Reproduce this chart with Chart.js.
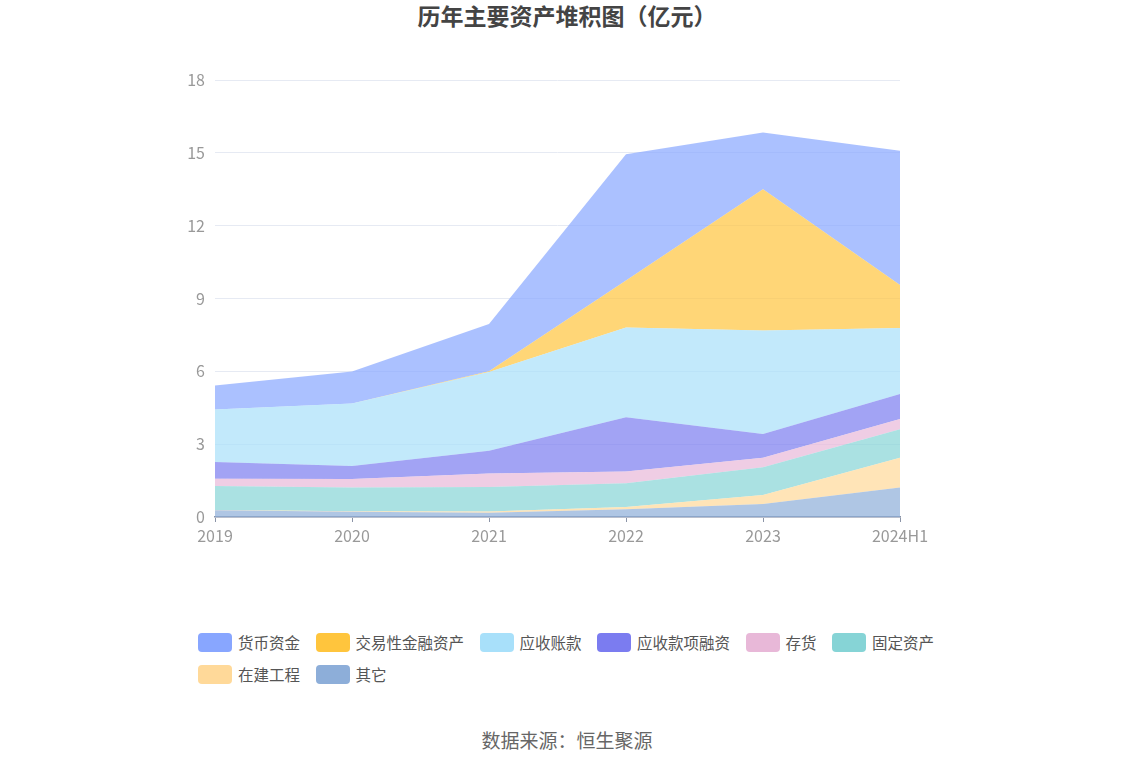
<!DOCTYPE html>
<html>
<head>
<meta charset="utf-8">
<script src="https://cdn.jsdelivr.net/npm/chart.js@4.4.1/dist/chart.umd.min.js"></script>
<style>
  body { margin: 0; background: #fff; font-family: "Noto Sans CJK SC", "Noto Sans", sans-serif; }
  #page { position: relative; width: 1134px; height: 766px; overflow: hidden; }
  #title { position: absolute; top: -2px; left: 0; width: 1134px; text-align: center; font-size: 23px; font-weight: bold; color: #444; }
  #wrap { position: absolute; left: 0; top: 0; width: 1134px; height: 560px; }
  #legend { position: absolute; left: 198px; top: 633px; width: 790px; display: flex; flex-wrap: wrap; row-gap: 13px; }
  .item { display: flex; align-items: center; margin-right: 15.5px; font-size: 15.5px; color: #555; line-height: 19px; }
  .box { width: 34px; height: 19px; border-radius: 4px; margin-right: 6px; }
  #source { position: absolute; top: 726px; left: 0; width: 1134px; text-align: center; font-size: 19px; color: #666; }
</style>
</head>
<body>
<div id="page">
  <div id="title">历年主要资产堆积图（亿元）</div>
  <div id="wrap"><canvas id="chart"></canvas></div>
  <div id="legend"></div>
  <div id="source">数据来源：恒生聚源</div>
</div>
<script>
// categories and series (亿元), stack order bottom -> top
const years = ['2019', '2020', '2021', '2022', '2023', '2024H1'];
const qita = [0.28, 0.22, 0.18, 0.32, 0.54, 1.21];
const zaijian = [0.01, 0.02, 0.05, 0.09, 0.37, 1.23];
const guding = [0.99, 0.97, 1.01, 0.98, 1.14, 1.17];
const cunhuo = [0.30, 0.36, 0.55, 0.48, 0.39, 0.43];
const rongzi = [0.69, 0.53, 0.94, 2.24, 0.98, 1.03];
const zhangkuan = [2.16, 2.58, 3.24, 3.70, 4.26, 2.72];
const jiaoyi = [0, 0, 0.03, 1.93, 5.82, 1.77];
const huobi = [0.99, 1.31, 1.95, 5.20, 2.34, 5.53];
const yTicks = [0, 3, 6, 9, 12, 15, 18];

// legend order (as shown)
const series = [
  { name: '货币资金', data: huobi, color: '136,166,255' },
  { name: '交易性金融资产', data: jiaoyi, color: '255,197,61' },
  { name: '应收账款', data: zhangkuan, color: '168,224,250' },
  { name: '应收款项融资', data: rongzi, color: '123,124,240' },
  { name: '存货', data: cunhuo, color: '232,184,216' },
  { name: '固定资产', data: guding, color: '134,212,214' },
  { name: '在建工程', data: zaijian, color: '255,217,153' },
  { name: '其它', data: qita, color: '141,174,217' },
];

// html legend
const legend = document.getElementById('legend');
series.forEach((s) => {
  const item = document.createElement('div');
  item.className = 'item';
  item.innerHTML = `<span class="box" style="background: rgb(${s.color})"></span>${s.name}`;
  legend.appendChild(item);
});

const datasets = series.slice().reverse().map((s, i) => ({
  label: s.name,
  data: s.data,
  backgroundColor: `rgba(${s.color},0.7)`,
  borderWidth: 0,
  pointRadius: 0,
  pointHoverRadius: 0,
  tension: 0,
  fill: i === 0 ? 'origin' : '-1',
}));

const axisFont = { family: '"Noto Sans CJK SC", sans-serif', size: 16 };

new Chart(document.getElementById('chart'), {
  type: 'line',
  data: { labels: years, datasets: datasets },
  options: {
    responsive: true,
    maintainAspectRatio: false,
    animation: false,
    layout: { padding: { top: 80, right: 234, bottom: 0, left: 0 } },
    plugins: {
      legend: { display: false },
      tooltip: { enabled: false },
    },
    scales: {
      x: {
        offset: false,
        grid: { drawOnChartArea: false, tickLength: 5, color: '#8b94a7' },
        border: { color: '#8b94a7', width: 1.5 },
        ticks: { color: '#999', font: axisFont, padding: 4, maxRotation: 0, autoSkip: false },
        afterFit: (scale) => { scale.height = 43; },
      },
      y: {
        stacked: true,
        min: 0,
        max: 18,
        afterBuildTicks: (scale) => { scale.ticks = yTicks.map((v) => ({ value: v })); },
        grid: { color: '#e6eaf3', drawTicks: false },
        border: { display: false },
        ticks: { color: '#999', font: axisFont, padding: 10 },
        afterFit: (scale) => { scale.width = 215; },
      },
    },
  },
});
</script>
</body>
</html>
